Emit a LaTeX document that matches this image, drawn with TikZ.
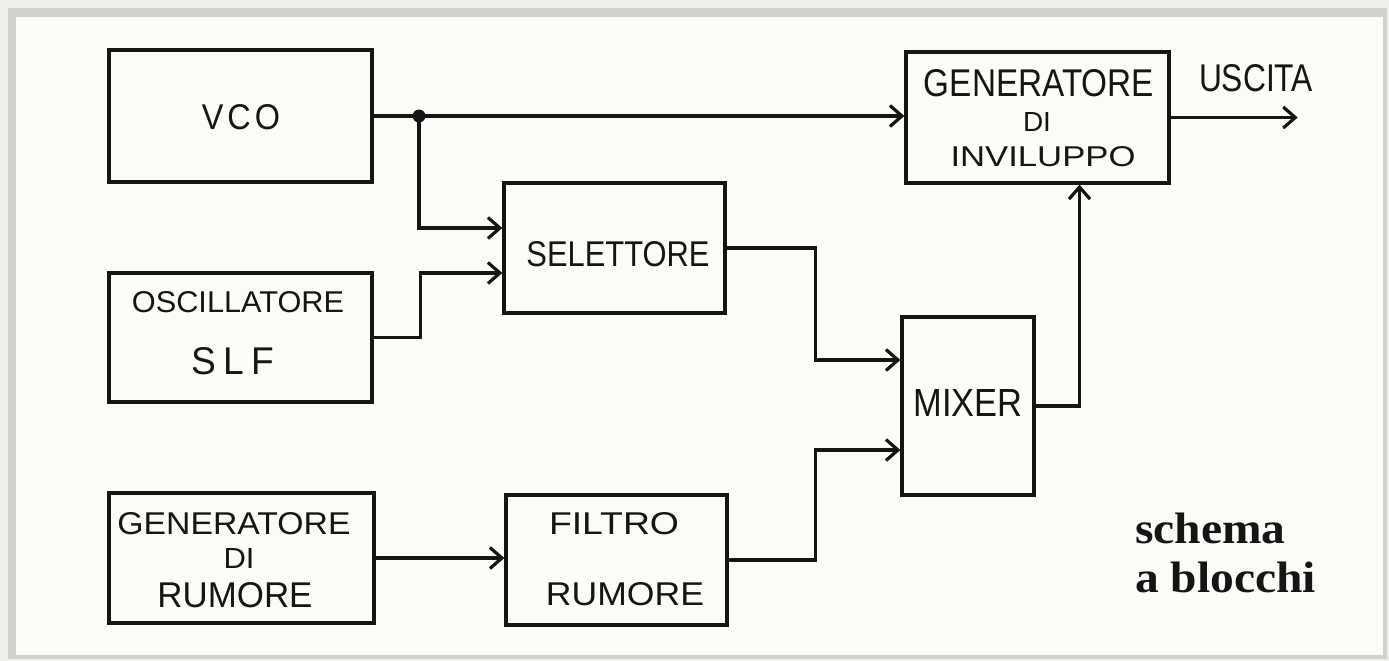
\documentclass[tikz,border=0pt]{standalone}
\usepackage{fontspec}
\setmainfont{Liberation Serif}
\newfontfamily\handfont{Liberation Sans}
\usetikzlibrary{arrows.meta,calc}
\definecolor{ink}{HTML}{151515}
\definecolor{paper}{HTML}{FBFBF8}
\definecolor{framegray}{HTML}{D0D0CD}
\definecolor{outerbg}{HTML}{EEEEEC}
\newcommand{\hw}[3]{\resizebox{#1pt}{#2pt}{\handfont #3}}
\begin{document}
\begin{tikzpicture}[x=1pt,y=-1pt,
  blk/.style={draw=ink, line width=3.3pt, rectangle, inner sep=0pt},
  txt/.style={inner sep=0pt, text=ink},
  wire/.style={draw=ink, line width=3.2pt},
  arr/.style={wire, -{Straight Barb[length=12pt,width=21pt]}},
  title/.style={inner sep=0pt, text=ink, anchor=base west}
]
% background and frame
\fill[outerbg] (0,0) rectangle (1389,661);
\useasboundingbox (0,0) rectangle (1389,661);
\fill[framegray] (8,8) rectangle (1387,659);
\fill[paper] (16,17) rectangle (1383,655);

% blocks
\node[blk, minimum width=263pt, minimum height=132pt] (vco) at (240.5,116) {};
\node[blk, minimum width=263pt, minimum height=129pt] (osc) at (240.5,337.5) {};
\node[blk, minimum width=265pt, minimum height=130pt] (gen) at (241.5,558) {};
\node[blk, minimum width=221pt, minimum height=130pt] (sel) at (614.5,248) {};
\node[blk, minimum width=221pt, minimum height=130pt] (fil) at (616.5,560) {};
\node[blk, minimum width=132pt, minimum height=178pt] (mix) at (968,406) {};
\node[blk, minimum width=263pt, minimum height=131pt] (inv) at (1037.5,117.5) {};

% labels
\node[txt] (tvco) at (241,117) {\hw{78}{25}{V\hspace{0.12em}C\hspace{0.12em}O}};
\node[txt] (tosc1) at (238,302) {\hw{212}{21}{OSCILLATORE}};
\node[txt] (tosc2) at (233,361) {\hw{83}{27}{S\hspace{0.2em}L\hspace{0.2em}F}};
\node[txt] (tgen1) at (234,524) {\hw{233}{22}{GENERATORE}};
\node[txt] (tgen2) at (239,558) {\hw{31}{20}{DI}};
\node[txt] (tgen3) at (235,595) {\hw{155}{25}{RUMORE}};
\node[txt] (tsel) at (618,254) {\hw{183}{25}{SELETTORE}};
\node[txt] (tfil1) at (614,524) {\hw{130}{22}{FILTRO}};
\node[txt] (tfil2) at (625,594) {\hw{158}{23}{RUMORE}};
\node[txt] (tmix) at (968,403) {\hw{109}{27}{MIXER}};
\node[txt] (tinv1) at (1039,83) {\hw{230}{27}{GENERATORE}};
\node[txt] (tinv2) at (1037,122) {\hw{28}{19}{DI}};
\node[txt] (tinv3) at (1043,157) {\hw{185}{20}{INVILUPPO}};
\node[txt] (tout) at (1256,78) {\hw{114}{27}{USCITA}};
\node[title] (tt1) at (1135,543) {\scalebox{1.08}[1]{\fontsize{44}{44}\selectfont\bfseries schema}};
\node[title] (tt2) at (1135,592) {\scalebox{1.08}[1]{\fontsize{44}{44}\selectfont\bfseries a blocchi}};

% connectors
\coordinate (j) at (419,116);
\coordinate (out) at ($(inv.east)+(127,0)$);
\draw[arr] (vco.east) -- (vco.east -| inv.west);
\fill[ink] (j) circle (6.5pt);
\draw[arr] (j) |- ($(sel.west)+(0,-20)$);
\draw[arr] (osc.east) -- ++(47,0) |- ($(sel.west)+(0,25)$);
\draw[arr] (sel.east) -- ++(89,0) |- ($(mix.west)+(0,-46)$);
\draw[arr] (fil.east) -- ++(87,0) |- ($(mix.west)+(0,44)$);
\draw[arr] (gen.east) -- (gen.east -| fil.west);
\draw[arr] (mix.east) -| ($(inv.south)+(42,0)$);
\draw[arr] (inv.east) -- (out);
\end{tikzpicture}
\end{document}
